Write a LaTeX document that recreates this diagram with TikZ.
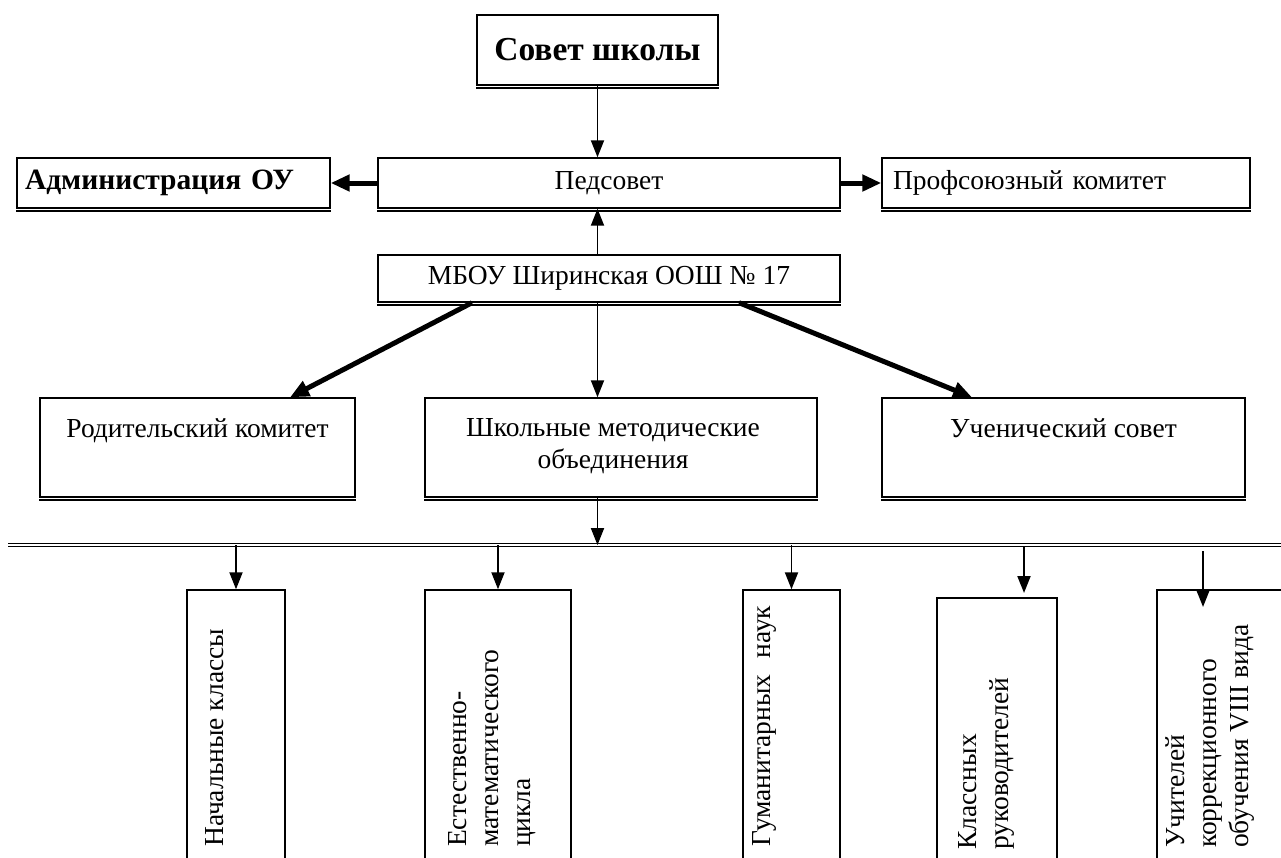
\documentclass[tikz,border=0pt]{standalone}
\usepackage{fontspec}
\setmainfont{Liberation Serif}
\usetikzlibrary{arrows.meta}
\begin{document}
\begin{tikzpicture}[x=1pt,y=-1pt,
  box/.style={draw, line width=1.4pt, fill=white, inner sep=0pt},
  txt/.style={font=\fontsize{27.5}{32}\selectfont},
  boldtxt/.style={font=\fontsize{29.5}{34}\selectfont\bfseries},
  lbl/.style={txt, inner sep=0pt, align=center},
  thinarr/.style={line width=1.9pt, -{Triangle[length=17pt,width=13pt]}},
  thickarr/.style={line width=5pt, -{Triangle[length=19pt,width=16pt]}},
  vtext/.style={txt, inner sep=0pt, rotate=90, anchor=north west, align=left},
  bus/.style={line width=1.3pt, double, double distance=1.2pt},
  shadow/.style={line width=1.6pt}
]
\clip (0,0) rectangle (1281,857);
\fill[white] (0,0) rectangle (1281,857);

% top level
\node[box, minimum width=241pt, minimum height=70pt,
      font=\fontsize{33.5}{40}\selectfont\bfseries] (sovet) at (597.5,50) {Совет школы};
\node[box, boldtxt, inner xsep=8pt, text width=297pt, align=left, minimum height=50pt] (admin) at (173.5,183) {Администрация ОУ};
\node[box, txt, minimum width=462pt, minimum height=50pt] (ped) at (609,183) {Педсовет};
\node[box, txt, inner xsep=11pt, text width=346pt, align=left, minimum height=50pt] (prof) at (1066,183) {Профсоюзный комитет};
\node[box, txt, minimum width=462pt, minimum height=47pt] (mbou) at (609,278.5) {МБОУ Ширинская ООШ № 17};

% middle row
\node[box, minimum width=315pt, minimum height=99pt] (rod) at (197.5,447.5) {};
\node[box, minimum width=392pt, minimum height=99pt] (shk) at (621,447.5) {};
\node[box, minimum width=363pt, minimum height=99pt] (uch) at (1063.5,447.5) {};
\node[lbl, anchor=north] (rodt) at ([yshift=-21pt]rod.north) {Родительский комитет};
\node[lbl, anchor=north] (shkt) at ([xshift=-8pt,yshift=-21pt]shk.north) {Школьные методические\\объединения};
\node[lbl, anchor=north] (ucht) at ([yshift=-21pt]uch.north) {Ученический совет};

\foreach \n in {sovet,admin,ped,prof,mbou,rod,shk,uch}
  \draw[shadow] ([yshift=-2.4pt]\n.south west) -- ([yshift=-2.4pt]\n.south east);

% bus line
\coordinate (busL) at (8,545);
\coordinate (busR) at (1295,545);
\draw[bus] (busL) -- (busR);

% bottom boxes
\node[box, minimum width=98pt, minimum height=285pt] (b1) at (236,732.5) {};
\node[box, minimum width=146pt, minimum height=285pt] (b2) at (498,732.5) {};
\node[box, minimum width=97pt, minimum height=285pt] (b3) at (791.5,732.5) {};
\node[box, minimum width=120pt, minimum height=277pt] (b4) at (997,736.5) {};
\node[box, minimum width=143pt, minimum height=285pt] (b5) at (1228.5,732.5) {};

\node[vtext] (t1) at (205,847) {Начальные классы};
\node[vtext] (t2) at (448,847) {Естественно-\\математического\\цикла};
\node[vtext] (t3) at (752,847) {Гуманитарных\hspace{16pt}наук};
\node[vtext] (t4) at (958,850) {Классных\\руководителей};
\node[vtext] (t5) at (1165,848) {Учителей\\коррекционного\\обучения VIII вида};

% connectors
\draw[thinarr] (sovet.south) -- (sovet.south |- ped.north);
\draw[thinarr] (sovet.south |- mbou.north) -- (sovet.south |- ped.south);
\draw[thickarr] (ped.west) -- (admin.east);
\draw[thickarr] (ped.east) -- (prof.west);
\draw[thinarr] (sovet.south |- mbou.south) -- (sovet.south |- shk.north);
\draw[thickarr] ([xshift=-137pt]mbou.south) -- ([xshift=92.5pt]rod.north);
\draw[thickarr] ([xshift=130pt]mbou.south) -- ([xshift=-91.5pt]uch.north);
\draw[thinarr] (sovet.south |- shk.south) -- (sovet.south |- busL);

\coordinate (a4s) at (1024,546);
\coordinate (a4e) at (1024,593);
\coordinate (a5s) at (1203,551);
\coordinate (a5e) at (1203,607);
\draw[thinarr] (b1.north |- busL) -- (b1.north);
\draw[thinarr] (b2.north |- busL) -- (b2.north);
\draw[thinarr] (b3.north |- busL) -- (b3.north);
\draw[thinarr] (a4s) -- (a4e);
\draw[thinarr] (a5s) -- (a5e);
\end{tikzpicture}
\end{document}
